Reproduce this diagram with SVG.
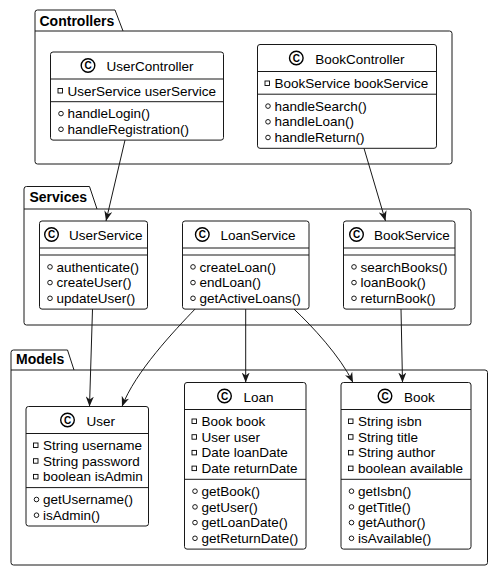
<svg xmlns="http://www.w3.org/2000/svg" width="494" height="572" viewBox="0 0 494 572">
<style>
.pkg{fill:#ffffff;stroke:#181818;stroke-width:1}
.pl{font-family:"Liberation Sans",Arial,sans-serif;font-size:14px;font-weight:bold;fill:#000}
.box{fill:#ffffff;stroke:#181818;stroke-width:1}
.sep{stroke:#181818;stroke-width:1}
.nm{font-family:"Liberation Sans",Arial,sans-serif;font-size:13.5px;fill:#000}
.mb{font-family:"Liberation Sans",Arial,sans-serif;font-size:13.5px;fill:#000}
.ci{fill:#ffffff;stroke:#000;stroke-width:1.4}
.cc{font-family:"Liberation Sans",Arial,sans-serif;font-size:10px;font-weight:bold;fill:#000;text-anchor:middle}
.pv{fill:none;stroke:#000;stroke-width:0.9}
.pb{fill:none;stroke:#000;stroke-width:0.9}
.edge{fill:none;stroke:#181818;stroke-width:1;marker-end:url(#arr)}
</style>
<defs>
<marker id="arr" markerUnits="userSpaceOnUse" markerWidth="10" markerHeight="8" viewBox="0 0 10 8" refX="10" refY="4" orient="auto">
<path d="M0,0 L10,4 L0,8 L3,4 Z" fill="#181818"/>
</marker>
</defs>

<g id="pkg-controllers">
<path class="pkg" d="M35,12.5 Q35,10 37.5,10 L115,10 L123,31 L449.5,31 Q452,31 452,33.5 L452,161.5 Q452,164 449.5,164 L37.5,164 Q35,164 35,161.5 Z"/>
<line class="sep" x1="35" y1="31" x2="123" y2="31"/>
<text class="pl" x="39.5" y="25.5">Controllers</text>
</g>
<g id="pkg-services">
<path class="pkg" d="M24,189 Q24,186.5 26.5,186.5 L89.5,186.5 L97,209 L468.5,209 Q471,209 471,211.5 L471,322.5 Q471,325 468.5,325 L26.5,325 Q24,325 24,322.5 Z"/>
<line class="sep" x1="24" y1="209" x2="97" y2="209"/>
<text class="pl" x="29.5" y="202">Services</text>
</g>
<g id="pkg-models">
<path class="pkg" d="M11,352.5 Q11,350 13.5,350 L67.5,350 L74,370 L485,370 Q487.5,370 487.5,372.5 L487.5,562.5 Q487.5,565 485,565 L13.5,565 Q11,565 11,562.5 Z"/>
<line class="sep" x1="11" y1="370" x2="74" y2="370"/>
<text class="pl" x="16" y="363.5">Models</text>
</g>

<g id="UserController">
<rect class="box" x="50.5" y="52" width="173" height="88.1" rx="2.5"/>
<line class="sep" x1="50.5" y1="79" x2="223.5" y2="79"/>
<line class="sep" x1="50.5" y1="101.7" x2="223.5" y2="101.7"/>
<circle class="ci" cx="88" cy="65.5" r="6.8"/><text class="cc" x="88" y="69.2">C</text>
<text class="nm" x="106.5" y="71">UserController</text>
<rect class="pv" x="58" y="88.5" width="4.5" height="4.5"/><text class="mb" x="67.5" y="95.5">UserService userService</text>
<circle class="pb" cx="61" cy="113.6" r="2.3"/><text class="mb" x="67.5" y="118.2">handleLogin()</text>
<circle class="pb" cx="61" cy="129.3" r="2.3"/><text class="mb" x="67.5" y="133.9">handleRegistration()</text>
</g>

<g id="BookController">
<rect class="box" x="257.5" y="44.5" width="179" height="103.8" rx="2.5"/>
<line class="sep" x1="257.5" y1="71.5" x2="436.5" y2="71.5"/>
<line class="sep" x1="257.5" y1="94.2" x2="436.5" y2="94.2"/>
<circle class="ci" cx="296.3" cy="58" r="6.8"/><text class="cc" x="296.3" y="61.7">C</text>
<text class="nm" x="315.3" y="63.5">BookController</text>
<rect class="pv" x="265" y="81" width="4.5" height="4.5"/><text class="mb" x="274.5" y="88">BookService bookService</text>
<circle class="pb" cx="268" cy="106.1" r="2.3"/><text class="mb" x="274.5" y="110.7">handleSearch()</text>
<circle class="pb" cx="268" cy="121.8" r="2.3"/><text class="mb" x="274.5" y="126.4">handleLoan()</text>
<circle class="pb" cx="268" cy="137.5" r="2.3"/><text class="mb" x="274.5" y="142.1">handleReturn()</text>
</g>

<g id="UserService">
<rect class="box" x="39.5" y="221" width="108" height="88.1" rx="2.5"/>
<line class="sep" x1="39.5" y1="248" x2="147.5" y2="248"/>
<line class="sep" x1="39.5" y1="255" x2="147.5" y2="255"/>
<circle class="ci" cx="51.5" cy="234.5" r="6.8"/><text class="cc" x="51.5" y="238.2">C</text>
<text class="nm" x="69" y="240">UserService</text>
<circle class="pb" cx="50" cy="266.9" r="2.3"/><text class="mb" x="56.5" y="271.5">authenticate()</text>
<circle class="pb" cx="50" cy="282.6" r="2.3"/><text class="mb" x="56.5" y="287.2">createUser()</text>
<circle class="pb" cx="50" cy="298.3" r="2.3"/><text class="mb" x="56.5" y="302.9">updateUser()</text>
</g>

<g id="LoanService">
<rect class="box" x="182.5" y="221" width="126.5" height="88.1" rx="2.5"/>
<line class="sep" x1="182.5" y1="248" x2="309" y2="248"/>
<line class="sep" x1="182.5" y1="255" x2="309" y2="255"/>
<circle class="ci" cx="202.3" cy="234.5" r="6.8"/><text class="cc" x="202.3" y="238.2">C</text>
<text class="nm" x="220.5" y="240">LoanService</text>
<circle class="pb" cx="193" cy="266.9" r="2.3"/><text class="mb" x="199.5" y="271.5">createLoan()</text>
<circle class="pb" cx="193" cy="282.6" r="2.3"/><text class="mb" x="199.5" y="287.2">endLoan()</text>
<circle class="pb" cx="193" cy="298.3" r="2.3"/><text class="mb" x="199.5" y="302.9">getActiveLoans()</text>
</g>

<g id="BookService">
<rect class="box" x="343.5" y="221" width="111.5" height="88.1" rx="2.5"/>
<line class="sep" x1="343.5" y1="248" x2="455" y2="248"/>
<line class="sep" x1="343.5" y1="255" x2="455" y2="255"/>
<circle class="ci" cx="356.5" cy="234.5" r="6.8"/><text class="cc" x="356.5" y="238.2">C</text>
<text class="nm" x="374" y="240">BookService</text>
<circle class="pb" cx="354" cy="266.9" r="2.3"/><text class="mb" x="360.5" y="271.5">searchBooks()</text>
<circle class="pb" cx="354" cy="282.6" r="2.3"/><text class="mb" x="360.5" y="287.2">loanBook()</text>
<circle class="pb" cx="354" cy="298.3" r="2.3"/><text class="mb" x="360.5" y="302.9">returnBook()</text>
</g>

<g id="User">
<rect class="box" x="26" y="406.5" width="122.5" height="119.5" rx="2.5"/>
<line class="sep" x1="26" y1="433.5" x2="148.5" y2="433.5"/>
<line class="sep" x1="26" y1="487.6" x2="148.5" y2="487.6"/>
<circle class="ci" cx="67.5" cy="420" r="6.8"/><text class="cc" x="67.5" y="423.7">C</text>
<text class="nm" x="86.5" y="425.5">User</text>
<rect class="pv" x="33.5" y="443" width="4.5" height="4.5"/><text class="mb" x="43" y="450">String username</text>
<rect class="pv" x="33.5" y="458.7" width="4.5" height="4.5"/><text class="mb" x="43" y="465.7">String password</text>
<rect class="pv" x="33.5" y="474.4" width="4.5" height="4.5"/><text class="mb" x="43" y="481.4">boolean isAdmin</text>
<circle class="pb" cx="36.5" cy="499.5" r="2.3"/><text class="mb" x="43" y="504.1">getUsername()</text>
<circle class="pb" cx="36.5" cy="515.2" r="2.3"/><text class="mb" x="43" y="519.8">isAdmin()</text>
</g>

<g id="Loan">
<rect class="box" x="184.5" y="382.5" width="121.5" height="166.6" rx="2.5"/>
<line class="sep" x1="184.5" y1="409.5" x2="306" y2="409.5"/>
<line class="sep" x1="184.5" y1="479.3" x2="306" y2="479.3"/>
<circle class="ci" cx="224.5" cy="396" r="6.8"/><text class="cc" x="224.5" y="399.7">C</text>
<text class="nm" x="243.5" y="401.5">Loan</text>
<rect class="pv" x="192" y="419" width="4.5" height="4.5"/><text class="mb" x="201.5" y="426">Book book</text>
<rect class="pv" x="192" y="434.7" width="4.5" height="4.5"/><text class="mb" x="201.5" y="441.7">User user</text>
<rect class="pv" x="192" y="450.4" width="4.5" height="4.5"/><text class="mb" x="201.5" y="457.4">Date loanDate</text>
<rect class="pv" x="192" y="466.1" width="4.5" height="4.5"/><text class="mb" x="201.5" y="473.1">Date returnDate</text>
<circle class="pb" cx="195" cy="491.2" r="2.3"/><text class="mb" x="201.5" y="495.8">getBook()</text>
<circle class="pb" cx="195" cy="506.9" r="2.3"/><text class="mb" x="201.5" y="511.5">getUser()</text>
<circle class="pb" cx="195" cy="522.6" r="2.3"/><text class="mb" x="201.5" y="527.2">getLoanDate()</text>
<circle class="pb" cx="195" cy="538.3" r="2.3"/><text class="mb" x="201.5" y="542.9">getReturnDate()</text>
</g>

<g id="Book">
<rect class="box" x="341" y="382.5" width="130" height="166.6" rx="2.5"/>
<line class="sep" x1="341" y1="409.5" x2="471" y2="409.5"/>
<line class="sep" x1="341" y1="479.3" x2="471" y2="479.3"/>
<circle class="ci" cx="385" cy="396" r="6.8"/><text class="cc" x="385" y="399.7">C</text>
<text class="nm" x="404" y="401.5">Book</text>
<rect class="pv" x="348.5" y="419" width="4.5" height="4.5"/><text class="mb" x="358" y="426">String isbn</text>
<rect class="pv" x="348.5" y="434.7" width="4.5" height="4.5"/><text class="mb" x="358" y="441.7">String title</text>
<rect class="pv" x="348.5" y="450.4" width="4.5" height="4.5"/><text class="mb" x="358" y="457.4">String author</text>
<rect class="pv" x="348.5" y="466.1" width="4.5" height="4.5"/><text class="mb" x="358" y="473.1">boolean available</text>
<circle class="pb" cx="351.5" cy="491.2" r="2.3"/><text class="mb" x="358" y="495.8">getIsbn()</text>
<circle class="pb" cx="351.5" cy="506.9" r="2.3"/><text class="mb" x="358" y="511.5">getTitle()</text>
<circle class="pb" cx="351.5" cy="522.6" r="2.3"/><text class="mb" x="358" y="527.2">getAuthor()</text>
<circle class="pb" cx="351.5" cy="538.3" r="2.3"/><text class="mb" x="358" y="542.9">isAvailable()</text>
</g>

<g id="connectors">
<path class="edge" d="M125,140.1 L106,221"/>
<path class="edge" d="M364,148.3 L385.5,221"/>
<path class="edge" d="M92.5,309.1 L89.5,406.5"/>
<path class="edge" d="M195,309.1 C175,330 135,372 122,406.5"/>
<path class="edge" d="M245.7,309.1 L245.7,382.5"/>
<path class="edge" d="M294,309.1 C312,326 340,356 353,382.5"/>
<path class="edge" d="M401,309.1 L402.5,382.5"/>
</g>
</svg>
